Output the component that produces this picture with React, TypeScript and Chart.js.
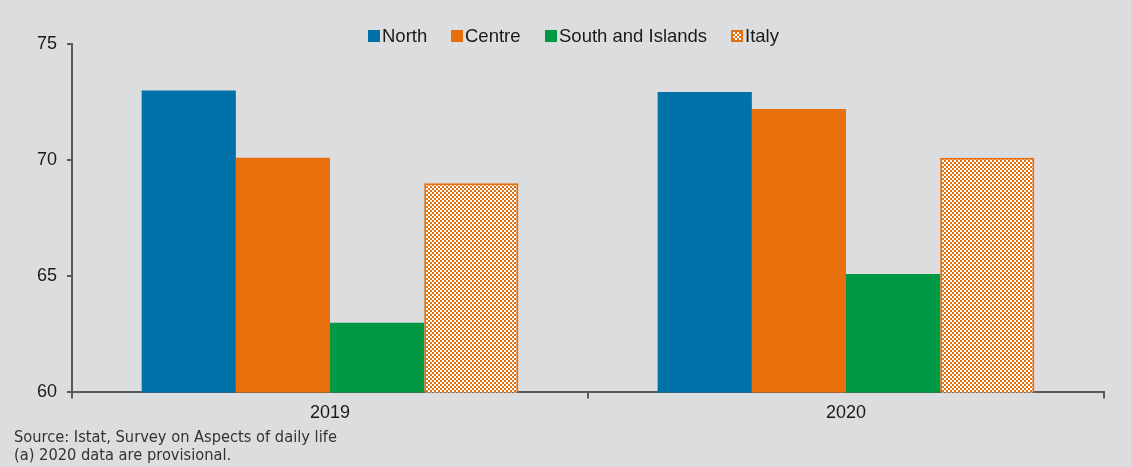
import React, { useEffect, useRef } from "react";
import { Chart, registerables } from "chart.js";

Chart.register(...registerables);

const categories = ["2019", "2020"];
const seriesNames = ["North", "Centre", "South and Islands", "Italy"];
const northValues = [73.0, 72.93];
const centreValues = [70.1, 72.2];
const southValues = [63.0, 65.1];
const italyValues = [69.0, 70.1];
const yTicks = [60, 65, 70, 75];
const footnotes = ["Source: Istat, Survey on Aspects of daily life", "(a) 2020 data are provisional."];

const BG = "#dcdddf";
const BLUE = "#0071a9";
const ORANGE = "#e8700c";
const GREEN = "#009845";
const AXIS = "#5a5a5a";
const FONT = "'Liberation Sans', Arial, Helvetica, sans-serif";

function makePattern(): CanvasPattern | string {
  const c = document.createElement("canvas");
  c.width = 4;
  c.height = 4;
  const ctx = c.getContext("2d");
  if (!ctx) return ORANGE;
  ctx.fillStyle = "#ffffff";
  ctx.fillRect(0, 0, 4, 4);
  ctx.fillStyle = ORANGE;
  ctx.fillRect(0, 0, 2, 2);
  ctx.fillRect(2, 2, 2, 2);
  const p = ctx.createPattern(c, "repeat");
  return p || ORANGE;
}

const legendItems = [
  { name: seriesNames[0], left: 368, swatch: { background: BLUE } as React.CSSProperties },
  { name: seriesNames[1], left: 451, swatch: { background: ORANGE } as React.CSSProperties },
  { name: seriesNames[2], left: 545, swatch: { background: GREEN } as React.CSSProperties },
  {
    name: seriesNames[3],
    left: 731,
    swatch: {
      background: `repeating-conic-gradient(${ORANGE} 0 25%, #ffffff 0 50%) 0 0 / 4px 4px`,
      boxShadow: `inset 0 0 0 2px ${ORANGE}`,
    } as React.CSSProperties,
  },
];

export default function App() {
  const ref = useRef<HTMLCanvasElement | null>(null);

  useEffect(() => {
    document.body.style.margin = "0";
    document.body.style.background = BG;
    if (!ref.current) return;
    const pattern = makePattern();
    const chart = new Chart(ref.current, {
      type: "bar",
      data: {
        labels: categories,
        datasets: [
          { label: seriesNames[0], data: northValues, backgroundColor: BLUE, borderWidth: 0 },
          { label: seriesNames[1], data: centreValues, backgroundColor: ORANGE, borderWidth: 0 },
          { label: seriesNames[2], data: southValues, backgroundColor: GREEN, borderWidth: 0 },
          { label: seriesNames[3], data: italyValues, backgroundColor: pattern as any, borderColor: ORANGE, borderWidth: 2 },
        ],
      },
      options: {
        animation: false,
        responsive: false,
        maintainAspectRatio: false,
        layout: { padding: { left: 27, right: 27, top: 44, bottom: 0 } },
        datasets: { bar: { categoryPercentage: 0.73, barPercentage: 1 } },
        plugins: {
          legend: { display: false },
          tooltip: { enabled: false },
        },
        scales: {
          x: {
            offset: true,
            border: { display: true, color: AXIS, width: 2 },
            grid: { display: true, drawOnChartArea: false, drawTicks: true, tickLength: 6, color: AXIS, lineWidth: 2, offset: true },
            ticks: {
              color: "#1a1a1a",
              font: { family: FONT, size: 18 },
              padding: 4,
            },
          },
          y: {
            min: 60,
            max: 75,
            afterBuildTicks: (axis: any) => {
              axis.ticks = yTicks.map((v) => ({ value: v }));
            },
            border: { display: true, color: AXIS, width: 2 },
            grid: { display: true, drawOnChartArea: false, drawTicks: true, tickLength: 5, color: AXIS, lineWidth: 2 },
            ticks: {
              color: "#1a1a1a",
              font: { family: FONT, size: 18 },
              padding: 10,
            },
          },
        },
      },
    });
    return () => chart.destroy();
  }, []);

  return (
    <div style={{ position: "relative", width: 1131, height: 467, background: BG, overflow: "hidden" }}>
      <canvas ref={ref} width={1131} height={428} style={{ display: "block" }} />
      {legendItems.map((it) => (
        <div
          key={it.name}
          style={{
            position: "absolute",
            left: it.left,
            top: 25,
            height: 22,
            display: "flex",
            alignItems: "center",
            fontFamily: FONT,
            fontSize: 18.5,
            color: "#1a1a1a",
            whiteSpace: "nowrap",
          }}
        >
          <span style={{ display: "inline-block", width: 12, height: 12, marginRight: 2, ...it.swatch }} />
          <span>{it.name}</span>
        </div>
      ))}
      <div
        style={{
          position: "absolute",
          left: 14,
          top: 428,
          fontFamily: "'Liberation Sans Narrow', 'Arial Narrow', 'DejaVu Sans Condensed', sans-serif",
          fontSize: 16.3,
          lineHeight: "18px",
          color: "#333",
        }}
      >
        <div>{footnotes[0]}</div>
        <div>{footnotes[1]}</div>
      </div>
    </div>
  );
}
